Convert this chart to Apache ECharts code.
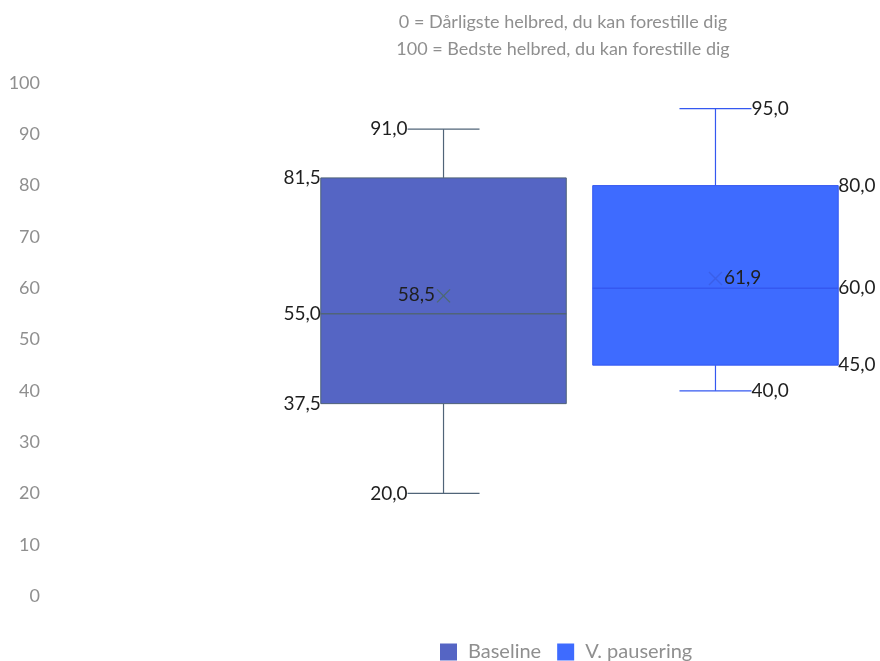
<!DOCTYPE html>
<html>
<head>
<meta charset="utf-8">
<script src="https://cdn.jsdelivr.net/npm/echarts@6/dist/echarts.min.js"></script>
<style>
  html, body { margin: 0; padding: 0; background: #ffffff; }
  #chart { width: 880px; height: 661px; }
</style>
</head>
<body>
<div id="chart"></div>
<script>
// Self-rated health (0-100), box statistics per measurement
const seriesNames = ['Baseline', 'V. pausering'];
const minValues    = [20.0, 40.0];
const q1Values     = [37.5, 45.0];
const medianValues = [55.0, 60.0];
const q3Values     = [81.5, 80.0];
const maxValues    = [91.0, 95.0];
const meanValues   = [58.5, 61.9];
const yTicks = [0, 10, 20, 30, 40, 50, 60, 70, 80, 90, 100];
const subtitleLines = [
  '0 = Dårligste helbred, du kan forestille dig',
  '100 = Bedste helbred, du kan forestille dig'
];

const fillColors = ['#5565c4', '#3e6bff'];
const lineColors = ['#506478', '#3458f0'];
const meanColors = ['#4d6a70', '#3a5fe8'];
const labelSides = [-1, 1];           // -1: labels on the left, 1: on the right
const boxOffsets = [-0.2293, 0.2293]; // box centre offset, share of band width
const BOX_WIDTH = 0.414;              // share of band width
const CAP_WIDTH = 0.1214;             // share of band width
const FONT = 'Lato, "Open Sans", sans-serif';

const fmt = v => v.toFixed(1).replace('.', ',');

function makeRenderer(idx) {
  return function (params, api) {
    const band = api.size([1, 0])[0];
    const cx = api.coord([0, 0])[0] + boxOffsets[idx] * band;
    const half = BOX_WIDTH * band / 2;
    const capHalf = CAP_WIDTH * band / 2;
    const y = v => api.coord([0, v])[1];
    const yMin = y(api.value(1)), yQ1 = y(api.value(2)), yMed = y(api.value(3));
    const yQ3 = y(api.value(4)), yMax = y(api.value(5)), yMean = y(api.value(6));
    const line = lineColors[idx];
    const side = labelSides[idx];
    const textStyleBase = { fill: '#1f1f1f', fontSize: 19, fontFamily: FONT, verticalAlign: 'middle' };
    const label = (x, yy, text) => ({
      type: 'text',
      style: Object.assign({ x: x, y: yy, text: text, align: side < 0 ? 'right' : 'left' }, textStyleBase)
    });
    const boxEdgeX = cx + side * half;
    const capEdgeX = cx + side * capHalf;
    const m = 6.5;
    return {
      type: 'group',
      children: [
        { type: 'line', shape: { x1: cx, y1: yQ3, x2: cx, y2: yMax }, style: { stroke: line, lineWidth: 1.2 } },
        { type: 'line', shape: { x1: cx, y1: yQ1, x2: cx, y2: yMin }, style: { stroke: line, lineWidth: 1.2 } },
        { type: 'line', shape: { x1: cx - capHalf, y1: yMax, x2: cx + capHalf, y2: yMax }, style: { stroke: line, lineWidth: 1.2 } },
        { type: 'line', shape: { x1: cx - capHalf, y1: yMin, x2: cx + capHalf, y2: yMin }, style: { stroke: line, lineWidth: 1.2 } },
        { type: 'rect', shape: { x: cx - half, y: yQ3, width: half * 2, height: yQ1 - yQ3 },
          style: { fill: fillColors[idx], stroke: line, lineWidth: 1 } },
        { type: 'line', shape: { x1: cx - half, y1: yMed, x2: cx + half, y2: yMed }, style: { stroke: line, lineWidth: 1.5 } },
        { type: 'line', shape: { x1: cx - m, y1: yMean - m, x2: cx + m, y2: yMean + m }, style: { stroke: meanColors[idx], lineWidth: 1.3 } },
        { type: 'line', shape: { x1: cx - m, y1: yMean + m, x2: cx + m, y2: yMean - m }, style: { stroke: meanColors[idx], lineWidth: 1.3 } },
        label(capEdgeX, yMax, fmt(api.value(5))),
        label(capEdgeX, yMin, fmt(api.value(1))),
        label(boxEdgeX, yQ3, fmt(api.value(4))),
        label(boxEdgeX, yMed, fmt(api.value(3))),
        label(boxEdgeX, yQ1, fmt(api.value(2))),
        label(cx + side * (m + 2), yMean - 1, fmt(api.value(6)))
      ]
    };
  };
}

const series = seriesNames.map((name, i) => ({
  name: name,
  type: 'custom',
  renderItem: makeRenderer(i),
  itemStyle: { color: fillColors[i] },
  encode: { x: 0, y: [1, 2, 3, 4, 5, 6] },
  data: [[0, minValues[i], q1Values[i], medianValues[i], q3Values[i], maxValues[i], meanValues[i]]],
  clip: false
}));

const chart = echarts.init(document.getElementById('chart'), null, { renderer: 'canvas' });
chart.setOption({
  animation: false,
  backgroundColor: '#ffffff',
  title: {
    text: subtitleLines.join('\n'),
    left: 563,
    top: 9,
    padding: 0,
    textAlign: 'center',
    textStyle: { color: '#8f8f8f', fontSize: 18, fontWeight: 'normal', fontFamily: FONT, lineHeight: 27 }
  },
  legend: {
    data: seriesNames,
    left: 440,
    bottom: -1,
    padding: 0,
    icon: 'rect',
    itemWidth: 17,
    itemHeight: 17,
    itemGap: 16,
    textStyle: { color: '#8f8f8f', fontSize: 20, fontFamily: FONT, padding: [0, 0, 0, 6] }
  },
  grid: { left: 283, right: 4, top: 83, bottom: 65, containLabel: false },
  xAxis: {
    type: 'category',
    data: [''],
    show: false
  },
  yAxis: {
    type: 'value',
    min: yTicks[0],
    max: yTicks[yTicks.length - 1],
    interval: yTicks[1] - yTicks[0],
    axisLine: { show: false },
    axisTick: { show: false },
    splitLine: { show: false },
    axisLabel: { color: '#8f8f8f', fontSize: 18, fontFamily: FONT, margin: 243, align: 'right' }
  },
  series: series
});
</script>
</body>
</html>
